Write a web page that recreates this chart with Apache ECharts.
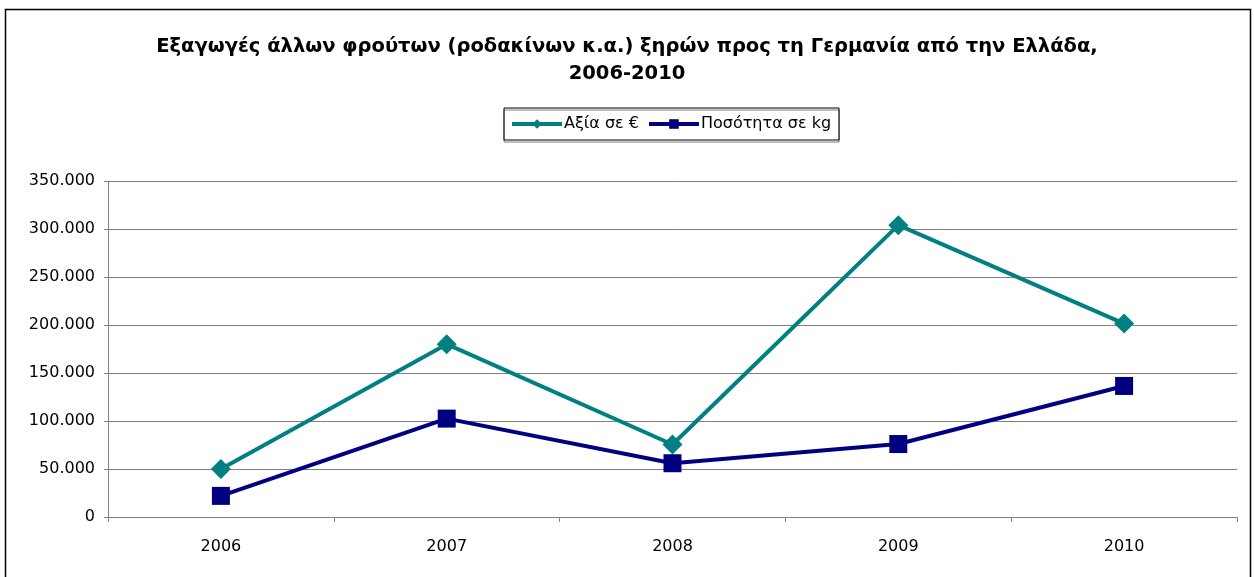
<!DOCTYPE html>
<html>
<head>
<meta charset="utf-8">
<script src="https://cdn.jsdelivr.net/npm/echarts@6/dist/echarts.min.js"></script>
<style>
  html, body { margin: 0; padding: 0; background: #fff; }
  #main { width: 1254px; height: 577px; }
</style>
</head>
<body>
<div id="main"></div>
<script>
// categories and values
const years = ["2006", "2007", "2008", "2009", "2010"];
const valueEur = [50000, 180000, 75500, 304000, 201500];   // Αξία σε €
const quantityKg = [22000, 102500, 56000, 76000, 136500];  // Ποσότητα σε kg
const seriesNames = ["Αξία σε €", "Ποσότητα σε kg"];

const chart = echarts.init(document.getElementById("main"));

// 350000 -> "350.000"
function dotThousands(v) {
  return String(v).replace(/\B(?=(\d{3})+(?!\d))/g, ".");
}

const FONT = "DejaVu Sans, Liberation Sans, sans-serif";

const option = {
  backgroundColor: "#fff",
  textStyle: { fontFamily: FONT },
  title: {
    text: "Εξαγωγές άλλων φρούτων (ροδακίνων κ.α.) ξηρών προς τη Γερμανία από την Ελλάδα,\n2006-2010",
    left: "center",
    top: 28,
    textStyle: {
      fontSize: 19.5,
      fontWeight: "bold",
      color: "#000",
      lineHeight: 27,
      fontFamily: FONT
    }
  },
  legend: {
    data: seriesNames,
    top: 108,
    left: 504,
    itemWidth: 50,
    itemHeight: 12,
    itemGap: 8,
    padding: [8, 8, 8, 6],
    borderColor: "#000",
    borderWidth: 1,
    shadowColor: "rgba(0,0,0,0.5)",
    shadowOffsetX: 0,
    shadowOffsetY: 2,
    lineStyle: { width: 4 },
    textStyle: { fontSize: 16, color: "#000", padding: [0, 0, 0, -3], fontFamily: FONT }
  },
  grid: {
    left: 108,
    right: 17,
    top: 181,
    bottom: 60,
    containLabel: false
  },
  xAxis: {
    type: "category",
    data: years,
    boundaryGap: true,
    axisLine: { lineStyle: { color: "#808080", width: 1 } },
    axisTick: { show: true, inside: false, length: 5, lineStyle: { color: "#808080" } },
    axisLabel: { fontSize: 16, color: "#000", margin: 22, fontFamily: FONT }
  },
  yAxis: {
    type: "value",
    min: 0,
    max: 350000,
    interval: 50000,
    axisLine: { show: true, lineStyle: { color: "#808080", width: 1 } },
    axisTick: { show: true, length: 4, lineStyle: { color: "#808080" } },
    axisLabel: {
      fontSize: 16,
      color: "#000",
      margin: 13,
      formatter: dotThousands,
      fontFamily: FONT
    },
    splitLine: { lineStyle: { color: "#808080", width: 1 } }
  },
  series: [
    {
      name: seriesNames[0],
      type: "line",
      data: valueEur,
      symbol: "diamond",
      symbolSize: 20,
      color: "#008080",
      lineStyle: { width: 4, color: "#008080" },
      itemStyle: { color: "#008080" },
      z: 3
    },
    {
      name: seriesNames[1],
      type: "line",
      data: quantityKg,
      symbol: "rect",
      symbolSize: 18,
      color: "#000080",
      lineStyle: { width: 4, color: "#000080" },
      itemStyle: { color: "#000080" },
      z: 4
    }
  ],
  graphic: [
    {
      type: "rect",
      silent: true,
      z: -1,
      shape: { x: 5.5, y: 9.5, width: 1245, height: 620 },
      style: { fill: null, stroke: "#000", lineWidth: 1.5 }
    }
  ],
  animation: false
};

chart.setOption(option);
</script>
</body>
</html>
